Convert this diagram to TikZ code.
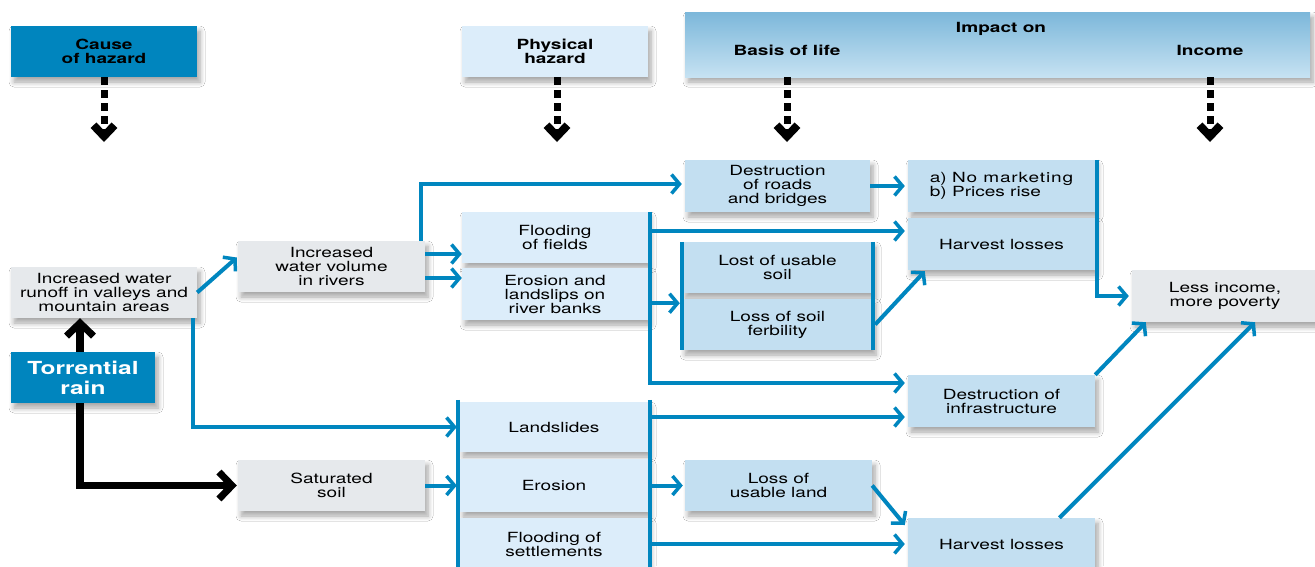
\documentclass[tikz,border=0pt]{standalone}
\usepackage{fontspec}
\setmainfont{TeX Gyre Heros}[FakeStretch=1.36]
\usetikzlibrary{arrows.meta,calc,shadows.blur}
\definecolor{dblue}{RGB}{0,133,190}
\definecolor{ablue}{RGB}{0,134,191}
\definecolor{lblue}{RGB}{220,237,250}
\definecolor{mblue}{RGB}{195,223,241}
\definecolor{lgray}{RGB}{230,233,236}
\definecolor{htop}{RGB}{124,183,218}
\definecolor{hbot}{RGB}{198,226,242}
\begin{document}
\begin{tikzpicture}[x=1pt,y=-1pt,
  every node/.style={font=\fontsize{14}{14}\selectfont, align=center, inner sep=0pt},
  bold/.style={font=\fontsize{14}{14}\selectfont\bfseries},
  box/.style={minimum width=187pt, minimum height=51pt,
    blur shadow={shadow xshift=3pt, shadow yshift=-5pt, shadow opacity=35, shadow blur steps=6, shadow blur radius=5pt}},
  graybox/.style={box, fill=lgray},
  lbox/.style={box, fill=lblue},
  mbox/.style={box, fill=mblue},
  cbox/.style={box, fill=dblue},
  bline/.style={draw=ablue, line width=4pt},
  barrow/.style={draw=ablue, line width=4pt, -{Straight Barb[length=8pt,width=19pt,line width=3.5pt]}},
  karrow/.style={draw=black, line width=7.5pt, -{Straight Barb[length=13pt,width=27pt,line width=7pt]}},
  darrow/.style={draw=black, line width=7pt, dash pattern=on 8pt off 5pt, -{Straight Barb[length=11pt,width=21pt,line width=8pt]}}
]
\fill[white] (0,0) rectangle (1315,566);
\useasboundingbox (0,0) rectangle (1315,566);

% headers
\node[cbox, minimum width=186pt, bold] (cause) at (104,51.5) {Cause\\of hazard};
\node[lbox, minimum width=186pt, bold] (phys) at (555,51.5) {Physical\\hazard};
\node[box, minimum width=625pt, minimum height=65pt, top color=htop, bottom color=hbot] (impact) at (997.5,44.5) {};
\node[bold] (impon) at (1001,29) {Impact on};
\node[bold] (basis) at (787,50) {Basis of life};
\node[bold] (incomeh) at (1210,50) {Income};

\coordinate (d1) at (104,142);
\coordinate (d2) at (557,142);
\coordinate (d3) at (787,142);
\coordinate (d4) at (1210,142);
\draw[darrow] (cause.south) -- (d1);
\draw[darrow] (phys.south -| d2) -- (d2);
\draw[darrow] (basis |- impact.south) -- (d3);
\draw[darrow] (incomeh |- impact.south) -- (d4);

% boxes
\node[graybox, minimum width=186pt] (runoff) at (104,292.5) {Increased water\\runoff in valleys and\\mountain areas};
\node[cbox, minimum width=144pt, text=white, font=\fontsize{18}{20}\selectfont\bfseries] (rain) at (83,377.5) {Torrential\\rain};
\node[graybox] (volume) at (331.5,266.5) {Increased\\water volume\\in rivers};
\node[graybox] (satur) at (331.5,485.5) {Saturated\\soil};
\node[lbox, minimum width=186pt] (ffields) at (555,237.5) {Flooding\\of fields};
\node[lbox, minimum width=186pt, minimum height=52pt] (elands) at (555,294) {Erosion and\\landslips on\\river banks};
\node[lbox, minimum width=188pt, minimum height=50pt] (lslides) at (554,427) {Landslides};
\node[lbox, minimum width=188pt, minimum height=53pt] (eros) at (554,485.5) {Erosion};
\node[lbox, minimum width=188pt, minimum height=52pt] (fsettle) at (554,544) {Flooding of\\settlements};
\node[mbox, minimum width=185pt, minimum height=52pt] (roads) at (777.5,186) {Destruction\\of roads\\and bridges};
\node[mbox, minimum width=191pt] (lsoil) at (777.5,267.5) {Lost of usable\\soil};
\node[mbox, minimum width=191pt] (fert) at (777.5,324.5) {Loss of soil\\ferbility};
\node[mbox] (uland) at (778.5,485.5) {Loss of\\usable land};
\node[mbox, minimum height=52pt, align=left] (market) at (1001.5,186) {a) {\addfontfeature{LetterSpace=6}No marketing}\\b) Prices rise};
\node[mbox, minimum height=52pt] (harv1) at (1001.5,244) {Harvest losses};
\node[mbox, minimum height=52pt] (infra) at (1001.5,401) {Destruction of\\infrastructure};
\node[mbox, minimum height=52pt] (harv2) at (1001.5,544) {Harvest losses};
\node[graybox, minimum width=186pt, minimum height=52pt] (income) at (1225,296) {Less income,\\more poverty};

% group bars
\draw[bline] (lsoil.north west) -- (fert.south west);
\draw[bline] (lsoil.north east) -- (fert.south east);
\draw[bline] ([xshift=-2pt,yshift=2pt]lslides.north west) -- ([xshift=-2pt,yshift=-10pt]fsettle.south west);
\draw[bline] ([xshift=2pt,yshift=2pt]lslides.north east) -- ([xshift=2pt,yshift=-10pt]fsettle.south east);

% black arrows
\coordinate (rn) at ($(rain.north)+(-3,0)$);
\draw[karrow] (rn) -- (rn |- runoff.south);
\draw[karrow] (rain.south -| rn) |- ($(satur.west)+(-1,0)$);

% blue connectors
\draw[barrow] (runoff.east) -- ($(volume.west)+(-1,-9)$);
\draw[barrow] ([xshift=-4pt]runoff.south east) |- ($(lslides.west)+(-3,0)$);
\draw[barrow] ([xshift=-4pt]volume.north east) |- ($(roads.west)+(-3,-2)$);
\coordinate (v1) at ($(volume.east)+(0,-12.5)$);
\coordinate (v2) at ($(volume.east)+(0,11.5)$);
\draw[barrow] (v1) -- (v1 -| ffields.west);
\draw[barrow] (v2) -- (v2 -| elands.west);
\draw[barrow] ([xshift=2pt]ffields.north east) |- ($(infra.west)+(-3,-18)$);
\coordinate (h1) at ($(harv1.west)+(-3,-13)$);
\draw[barrow] (h1 -| ffields.east) -- (h1);
\coordinate (ls) at ($(lsoil.south west)+(-2,10)$);
\draw[barrow] (ls -| ffields.east) -- (ls);
\draw[barrow] ([xshift=2pt]fert.east) -- ($(harv1.south west)+(17,1)$);
\draw[barrow] (roads.east) -- ($(market.west)+(-3,0)$);
\draw[barrow] ([xshift=2pt]market.north east) |- ($(income.west)+(-3,0)$);
\draw[barrow] (infra.north east) -- ($(income.south west)+(14,0)$);
\coordinate (ii) at ($(infra.west)+(-3,16)$);
\draw[barrow] (ii -| lslides.east) -- (ii);
\draw[barrow] (satur.east) -- ($(eros.west)+(-3,0)$);
\draw[barrow] (eros.east) -- ($(uland.west)+(-2,0)$);
\draw[barrow] (uland.east) -- ($(harv2.west)+(-3,-19)$);
\draw[barrow] (fsettle.east) -- ($(fsettle.east -| harv2.west)+(-3,0)$);
\draw[barrow] ($(harv2.north)+(58,0)$) -- ($(income.south)+(30,0)$);
\end{tikzpicture}
\end{document}
